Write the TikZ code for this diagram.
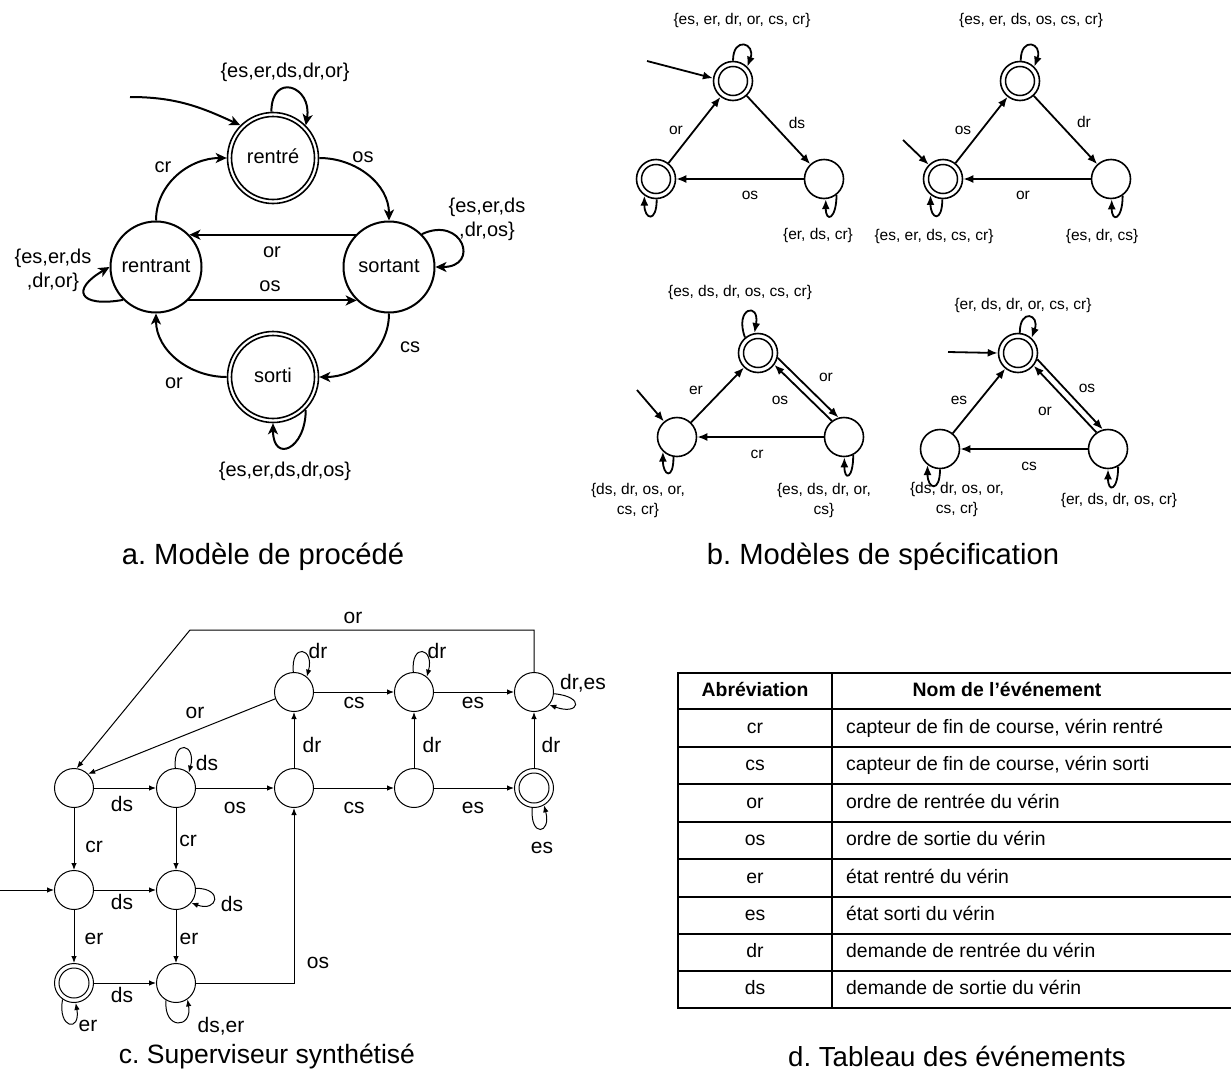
\documentclass[tikz,border=0pt]{standalone}
\usepackage{fontspec}
\setmainfont{Liberation Sans}
\usetikzlibrary{arrows.meta}
\frenchspacing
\begin{document}
\begin{tikzpicture}[x=1pt,y=1pt,
  fa/.style={font=\fontsize{20}{23}\selectfont, inner sep=0pt},
  fb/.style={font=\fontsize{15.5}{18.5}\selectfont, inner sep=0pt},
  fc/.style={font=\fontsize{21}{25}\selectfont, inner sep=0pt},
  ft/.style={font=\fontsize{19.4}{23}\selectfont, inner sep=0pt, text height=14pt, text depth=4pt},
  fth/.style={ft, font=\fontsize{19.4}{23}\selectfont\bfseries},
  fcap/.style={font=\fontsize{28}{34}\selectfont, inner sep=0pt},
  stA/.style={circle, draw, line width=2pt, minimum size=91pt, inner sep=0pt, font=\fontsize{20}{23}\selectfont, text height=14pt, text depth=4pt},
  dstA/.style={stA, line width=1.6pt},
  ea/.style={line width=2pt, -{Stealth[length=11pt,width=10pt,inset=3pt]}},
  stB/.style={circle, draw, line width=1.6pt, minimum size=39pt, inner sep=0pt},
  eb/.style={line width=1.8pt, -{Latex[length=10pt,width=8pt]}},
  stC/.style={circle, draw, line width=1pt, minimum size=39pt, inner sep=0pt},
  ec/.style={line width=1pt, -{Latex[length=7pt,width=5.5pt]}},
  tl/.style={line width=2pt},
]
\useasboundingbox (0,0) rectangle (1231,-1079);

% ================= a. process model =================
\node[dstA] (rentre) at (273,-158) {rentré};
\node[stA] (rentrant) at (156,-267) {rentrant};
\node[stA] (sortant) at (389,-267) {sortant};
\node[dstA] (sorti) at (273,-377) {sorti};
\draw[line width=1.6pt] (rentre.center) circle[radius=41.5];
\draw[line width=1.6pt] (sorti.center) circle[radius=41.5];

\coordinate (ainit) at (130,-97);
\draw[ea] (ainit) to[out=0,in=155] (rentre.135);
\draw[ea] (rentre.92) to[out=90,in=80,distance=40pt] (rentre.45);
\draw[ea] (rentrant.90) to[out=90,in=180] (rentre.180);
\draw[ea] (rentre.0) to[out=0,in=90] (sortant.90);
\draw[ea] (sortant.136) -- (rentrant.44);
\draw[ea] (rentrant.-46) -- (sortant.-134);
\draw[ea] (sortant.270) to[out=270,in=0] (sorti.0);
\draw[ea] (sorti.180) to[out=180,in=270] (rentrant.270);
\draw[ea] (sortant.45) to[out=25,in=0,distance=45pt] (sortant.0);
\draw[ea] (rentrant.225) to[out=190,in=210,distance=45pt] (rentrant.180);
\draw[ea] (sorti.-45) to[out=270,in=270,distance=40pt] (sorti.270);

\node[fa] (la1) at (285,-72) {\{es,er,ds,dr,or\}};
\node[fa] (la2) at (163,-167) {cr};
\node[fa] (la3) at (363,-157) {os};
\node[fa] (la4) at (272,-252) {or};
\node[fa] (la5) at (270,-286) {os};
\node[fa] (la6) at (410,-347) {cs};
\node[fa] (la7) at (174,-383) {or};
\node[fa, align=center, font=\fontsize{20}{24}\selectfont] (la8) at (487,-219) {\{es,er,ds\\,dr,os\}};
\node[fa, align=center, font=\fontsize{20}{24}\selectfont] (la9) at (53,-270) {\{es,er,ds\\,dr,or\}};
\node[fa] (la10) at (285,-471) {\{es,er,ds,dr,os\}};

\node[fcap, font=\fontsize{29.2}{34}\selectfont] (capa) at (263,-557) {a. Modèle de procédé};

% ================= b. specification models =================
% triangle 1
\node[stB] (t1t) at (733,-81) {};
\node[stB] (t1l) at (656,-179) {};
\node[stB] (t1r) at (824,-179) {};
\draw[line width=1.5pt] (t1t.center) circle[radius=14.5];
\draw[line width=1.5pt] (t1l.center) circle[radius=14.5];
\coordinate (b1i) at (647,-61);
\draw[eb] (b1i) -- (t1t.172);
\draw[eb] (t1l) -- (t1t);
\draw[eb] (t1t) -- (t1r);
\draw[eb] (t1r) -- (t1l);
\draw[eb] (t1t.90) to[out=90,in=70,distance=25pt] (t1t.45);
\draw[eb] (t1l.-88) to[out=270,in=270,distance=24pt] (t1l.-125);
\draw[eb] (t1r.-52) to[out=270,in=270,distance=24pt] (t1r.-85);
\node[fb] (lb1) at (676,-130) {or};
\node[fb] (lb2) at (797,-123) {ds};
\node[fb] (lb3) at (750,-195) {os};
\node[fb] (lb4) at (742,-20) {\{es, er, dr, or, cs, cr\}};
\node[fb] (lb5) at (818,-235) {\{er, ds, cr\}};

% triangle 2
\node[stB] (t2t) at (1020,-81) {};
\node[stB] (t2l) at (943,-179) {};
\node[stB] (t2r) at (1111,-179) {};
\draw[line width=1.5pt] (t2t.center) circle[radius=14.5];
\draw[line width=1.5pt] (t2l.center) circle[radius=14.5];
\coordinate (b2i) at (903,-140);
\draw[eb] (b2i) -- (t2l.135);
\draw[eb] (t2l) -- (t2t);
\draw[eb] (t2t) -- (t2r);
\draw[eb] (t2r) -- (t2l);
\draw[eb] (t2t.88) to[out=90,in=70,distance=25pt] (t2t.45);
\draw[eb] (t2l.-92) to[out=270,in=270,distance=24pt] (t2l.-128);
\draw[eb] (t2r.-55) to[out=270,in=270,distance=24pt] (t2r.-88);
\node[fb] (lb6) at (963,-130) {os};
\node[fb] (lb7) at (1084,-122) {dr};
\node[fb] (lb8) at (1023,-195) {or};
\node[fb] (lb9) at (1031,-20) {\{es, er, ds, os, cs, cr\}};
\node[fb] (lb10) at (934,-236) {\{es, er, ds, cs, cr\}};
\node[fb] (lb11) at (1102,-236) {\{es, dr, cs\}};

% triangle 3
\node[stB] (t3t) at (758,-353) {};
\node[stB] (t3l) at (677,-437) {};
\node[stB] (t3r) at (844,-437) {};
\draw[line width=1.5pt] (t3t.center) circle[radius=14.5];
\coordinate (b3i) at (637,-390);
\draw[eb] (b3i) -- (t3l.130);
\draw[eb] (t3l) -- (t3t);
\draw[eb] (t3t.-14) -- (t3r.106);
\draw[eb] (t3r.127) -- (t3t.-36);
\draw[eb] (t3r) -- (t3l);
\draw[eb] (t3t.130) to[out=110,in=80,distance=32pt] (t3t.100);
\draw[eb] (t3l.-100) to[out=270,in=270,distance=24pt] (t3l.-134);
\draw[eb] (t3r.-63) to[out=270,in=270,distance=24pt] (t3r.-89);
\node[fb] (lb12) at (696,-390) {er};
\node[fb] (lb13) at (826,-377) {or};
\node[fb] (lb14) at (780,-400) {os};
\node[fb] (lb15) at (757,-454) {cr};
\node[fb] (lb16) at (740,-292) {\{es, ds, dr, os, cs, cr\}};
\node[fb, align=center, font=\fontsize{15.5}{20}\selectfont] (lb17) at (638,-500) {\{ds, dr, os, or,\\cs, cr\}};
\node[fb, align=center, font=\fontsize{15.5}{20}\selectfont] (lb18) at (824,-500) {\{es, ds, dr, or,\\cs\}};

% triangle 4
\node[stB] (t4t) at (1018,-353) {};
\node[stB] (t4l) at (940,-449) {};
\node[stB] (t4r) at (1108,-449) {};
\draw[line width=1.5pt] (t4t.center) circle[radius=14.5];
\coordinate (b4i) at (948,-352);
\draw[eb] (b4i) -- (t4t.180);
\draw[eb] (t4l) -- (t4t);
\draw[eb] (t4t.-18) -- (t4r.105);
\draw[eb] (t4r.125) -- (t4t.-39);
\draw[eb] (t4r) -- (t4l);
\draw[eb] (t4t.85) to[out=90,in=70,distance=25pt] (t4t.48);
\draw[eb] (t4l.-90) to[out=270,in=270,distance=24pt] (t4l.-128);
\draw[eb] (t4r.-60) to[out=270,in=270,distance=24pt] (t4r.-90);
\node[fb] (lb19) at (959,-400) {es};
\node[fb] (lb20) at (1087,-388) {os};
\node[fb] (lb21) at (1045,-411) {or};
\node[fb] (lb22) at (1029,-466) {cs};
\node[fb] (lb23) at (1023,-305) {\{er, ds, dr, or, cs, cr\}};
\node[fb, align=center, font=\fontsize{15.5}{20}\selectfont] (lb24) at (957,-499) {\{ds, dr, os, or,\\cs, cr\}};
\node[fb] (lb25) at (1119,-500) {\{er, ds, dr, os, cr\}};

\node[fcap, font=\fontsize{29.2}{34}\selectfont] (capb) at (883,-557) {b. Modèles de spécification};

% ================= c. synthesized supervisor =================
\node[stC] (A) at (74,-788) {};
\node[stC] (B) at (176,-788) {};
\node[stC] (C) at (294,-788) {};
\node[stC] (D) at (294,-692) {};
\node[stC] (E) at (414,-692) {};
\node[stC] (F) at (534,-692) {};
\node[stC] (G) at (414,-788) {};
\node[stC] (H) at (534,-788) {};
\node[stC] (I) at (74,-890) {};
\node[stC] (J) at (176,-890) {};
\node[stC] (K) at (74,-983) {};
\node[stC] (L) at (176,-983) {};
\draw[line width=1pt] (H.center) circle[radius=15];
\draw[line width=1pt] (K.center) circle[radius=15];

\coordinate (cinit) at (0,-890);
\coordinate (orT) at (190,-630);
\draw[ec] (cinit) -- (I);
\draw[ec] (A) -- (B);
\draw[ec] (B) -- (C);
\draw[ec] (C) -- (G);
\draw[ec] (G) -- (H);
\draw[ec] (D) -- (E);
\draw[ec] (E) -- (F);
\draw[ec] (C) -- (D);
\draw[ec] (G) -- (E);
\draw[ec] (H) -- (F);
\draw[ec] (A) -- (I);
\draw[ec] (B) -- (J);
\draw[ec] (I) -- (J);
\draw[ec] (I) -- (K);
\draw[ec] (J) -- (L);
\draw[ec] (K) -- (L);
\draw[ec] (L) -| (C);
\draw[ec] (D.200) -- (A.45);
\draw[ec] (F.north) |- (orT) -- (A.82);
\draw[ec] (D.92) to[out=95,in=75,distance=30pt] (D.50);
\draw[ec] (E.92) to[out=95,in=75,distance=30pt] (E.50);
\draw[ec] (B.92) to[out=95,in=75,distance=30pt] (B.50);
\draw[ec] (F.-5) to[out=-5,in=-20,distance=32pt] (F.-40);
\draw[ec] (J.5) to[out=0,in=-20,distance=28pt] (J.-40);
\draw[ec] (H.265) to[out=265,in=285,distance=30pt] (H.300);
\draw[ec] (K.235) to[out=260,in=280,distance=30pt] (K.275);
\draw[ec] (L.240) to[out=265,in=280,distance=30pt] (L.305);

\node[fc] (lc1) at (122,-804) {ds};
\node[fc] (lc2) at (235,-808) {os};
\node[fc] (lc3) at (354,-808) {cs};
\node[fc] (lc4) at (473,-808) {es};
\node[fc] (lc5) at (354,-703) {cs};
\node[fc] (lc6) at (473,-703) {es};
\node[fc] (lc7) at (312,-745) {dr};
\node[fc] (lc8) at (432,-745) {dr};
\node[fc] (lc9) at (551,-745) {dr};
\node[fc] (lc10) at (94,-847) {cr};
\node[fc] (lc11) at (188,-841) {cr};
\node[fc] (lc12) at (122,-902) {ds};
\node[fc] (lc13) at (94,-939) {er};
\node[fc] (lc14) at (189,-939) {er};
\node[fc] (lc15) at (122,-995) {ds};
\node[fc] (lc16) at (318,-963) {os};
\node[fc] (lc17) at (195,-713) {or};
\node[fc] (lc18) at (353,-618) {or};
\node[fc] (lc19) at (318,-651) {dr};
\node[fc] (lc20) at (437,-651) {dr};
\node[fc] (lc21) at (207,-763) {ds};
\node[fc] (lc22) at (583,-683) {dr,es};
\node[fc] (lc23) at (542,-848) {es};
\node[fc] (lc24) at (232,-904) {ds};
\node[fc] (lc25) at (88,-1026) {er};
\node[fc] (lc26) at (221,-1026) {ds,er};

\node[fcap, font=\fontsize{26.5}{34}\selectfont] (capc) at (267,-1056) {c. Superviseur synthétisé};

% ================= d. table =================
\foreach \yy in {673,709,747,784,822,859,897,934,971,1008}
  \draw[tl] (678,-\yy) -- (1231,-\yy);
\draw[tl] (678,-672) -- (678,-1009);
\draw[tl] (832,-672) -- (832,-1009);
\node[fth] (th1) at (755,-691) {Abréviation};
\node[fth] (th2) at (1007,-691) {Nom de l’événement};
\node[ft] (r1a) at (755,-728) {cr};
\node[ft, anchor=west] (r1b) at (846,-728) {capteur de fin de course, vérin rentré};
\node[ft] (r2a) at (755,-765.5) {cs};
\node[ft, anchor=west] (r2b) at (846,-765.5) {capteur de fin de course, vérin sorti};
\node[ft] (r3a) at (755,-803) {or};
\node[ft, anchor=west] (r3b) at (846,-803) {ordre de rentrée du vérin};
\node[ft] (r4a) at (755,-840.5) {os};
\node[ft, anchor=west] (r4b) at (846,-840.5) {ordre de sortie du vérin};
\node[ft] (r5a) at (755,-878) {er};
\node[ft, anchor=west] (r5b) at (846,-878) {état rentré du vérin};
\node[ft] (r6a) at (755,-915.5) {es};
\node[ft, anchor=west] (r6b) at (846,-915.5) {état sorti du vérin};
\node[ft] (r7a) at (755,-952.5) {dr};
\node[ft, anchor=west] (r7b) at (846,-952.5) {demande de rentrée du vérin};
\node[ft] (r8a) at (755,-989.5) {ds};
\node[ft, anchor=west] (r8b) at (846,-989.5) {demande de sortie du vérin};

\node[fcap, font=\fontsize{27.6}{34}\selectfont] (capd) at (957,-1056) {d. Tableau des événements};
\end{tikzpicture}
\end{document}
